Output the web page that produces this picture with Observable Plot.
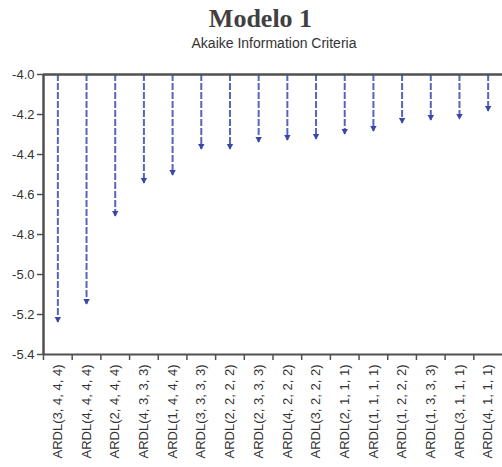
<!DOCTYPE html>
<html>
<head>
<meta charset="utf-8">
<script src="https://cdn.jsdelivr.net/npm/d3@7"></script>
<script src="https://cdn.jsdelivr.net/npm/@observablehq/plot@0.6"></script>
<style>
  html, body { margin: 0; padding: 0; background: #fff; }
  #page { position: relative; width: 502px; height: 467px; overflow: hidden; }
  #head { position: relative; height: 56px; }
  #title {
    position: absolute; left: 0; width: 521px; top: 4px; text-align: center;
    font: bold 26px "Liberation Serif", "Times New Roman", serif; color: #404040;
  }
  #subtitle {
    position: absolute; left: 0; width: 548px; top: 35px; text-align: center;
    font: 14px "Liberation Sans", Arial, sans-serif; color: #333;
  }
</style>
</head>
<body>
<div id="page">
  <div id="head">
    <div id="title">Modelo 1</div>
    <div id="subtitle">Akaike Information Criteria</div>
  </div>
  <div id="chart"></div>
</div>
<script>
// ARDL specifications, ordered from best (lowest AIC) to worst
const models = [
  "ARDL(3, 4, 4, 4)", "ARDL(4, 4, 4, 4)", "ARDL(2, 4, 4, 4)", "ARDL(4, 3, 3, 3)",
  "ARDL(1, 4, 4, 4)", "ARDL(3, 3, 3, 3)", "ARDL(2, 2, 2, 2)", "ARDL(2, 3, 3, 3)",
  "ARDL(4, 2, 2, 2)", "ARDL(3, 2, 2, 2)", "ARDL(2, 1, 1, 1)", "ARDL(1, 1, 1, 1)",
  "ARDL(1, 2, 2, 2)", "ARDL(1, 3, 3, 3)", "ARDL(3, 1, 1, 1)", "ARDL(4, 1, 1, 1)"
];
// Akaike information criterion of each model
const aic = [
  -5.24, -5.15, -4.71, -4.545, -4.505, -4.375, -4.375, -4.34,
  -4.33, -4.325, -4.30, -4.285, -4.245, -4.23, -4.225, -4.185
];
const yTicks = [-4.0, -4.2, -4.4, -4.6, -4.8, -5.0, -5.2, -5.4];
const baseline = -4.0;

const data = models.map((model, i) => ({model, aic: aic[i]}));

const W = 502, H = 411, ML = 43, MR = 0, MT = 18, MB = 113;
const bw = (W - ML - MR) / models.length;
const axisColor = "#505050";
const font = "Liberation Sans, Arial, sans-serif";

const chart = Plot.plot({
  width: W,
  height: H,
  marginLeft: ML,
  marginRight: MR,
  marginTop: MT,
  marginBottom: MB,
  style: {fontFamily: font, fontSize: "13px", color: "#333", background: "#fff", overflow: "visible"},
  x: {type: "band", domain: models, padding: 0, round: false, label: null},
  y: {domain: [-5.4, -4.0], label: null},
  marks: [
    // dashed stems from the baseline down to each AIC value
    Plot.ruleX(data, {
      x: "model", y1: baseline, y2: "aic",
      stroke: "#5566bb", strokeWidth: 2, strokeDasharray: "7,2"
    }),
    // arrowheads at the AIC values
    Plot.dot(data, {
      x: "model", y: "aic", symbol: "triangle", rotate: 180, r: 2.4, dy: -3.6,
      fill: "#3847a8", stroke: "none"
    }),
    // frame lines: top (baseline), bottom, left
    Plot.ruleY([baseline], {stroke: axisColor, strokeWidth: 2.5}),
    Plot.ruleY([-5.4], {stroke: axisColor, strokeWidth: 2}),
    Plot.ruleX([models[0]], {y1: -5.4, y2: -4.0, dx: -bw / 2, stroke: axisColor, strokeWidth: 2.5}),
    // y axis
    Plot.axisY({
      ticks: yTicks, tickFormat: d => d.toFixed(1), tickSize: 6, tickPadding: 3,
      stroke: axisColor, strokeWidth: 1.5, fill: "#333", fontSize: 13
    }),
    // x tick marks at the category boundaries
    Plot.axisX({
      tickSize: 6, tickFormat: () => "", dx: -bw / 2,
      stroke: axisColor, strokeWidth: 1.5
    }),
    // rotated category labels
    Plot.axisX({
      tickSize: 0, tickPadding: 10, tickRotate: -90,
      fill: "#333", fontSize: 13
    })
  ]
});

document.getElementById("chart").appendChild(chart);
</script>
</body>
</html>
